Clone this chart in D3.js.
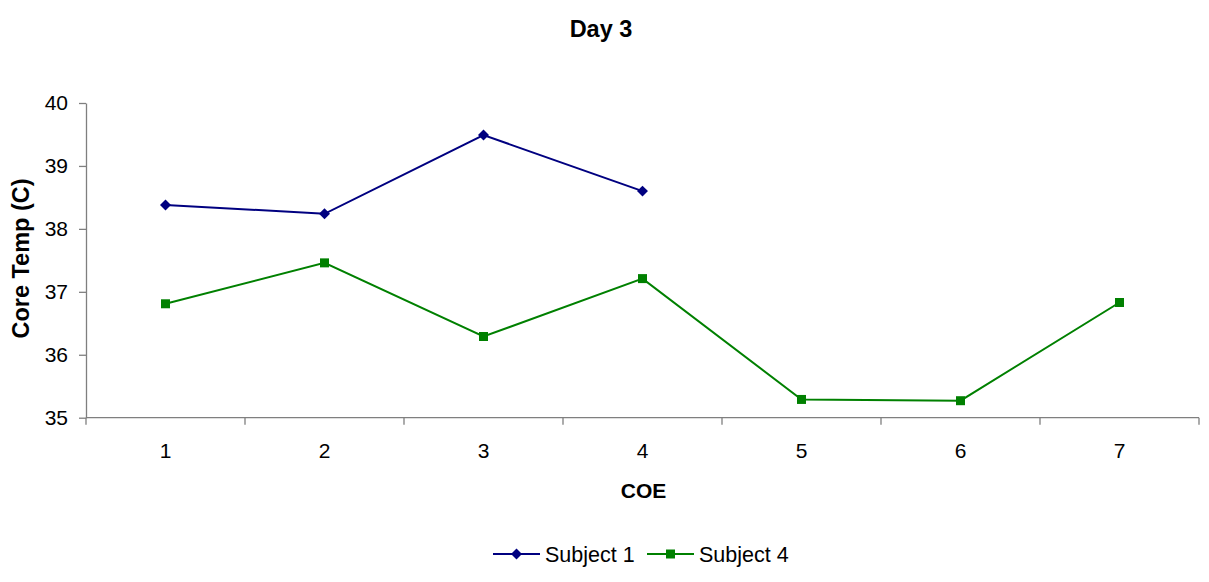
<!DOCTYPE html>
<html>
<head>
<meta charset="utf-8">
<script src="https://cdn.jsdelivr.net/npm/d3@7/dist/d3.min.js"></script>
<style>
  html, body { margin: 0; padding: 0; background: #fff; }
  svg { display: block; font-family: "Liberation Sans", Arial, sans-serif; }
</style>
</head>
<body>
<svg id="chart" width="1209" height="582"></svg>
<script>
// COE sessions along the x axis
const categories = ["1", "2", "3", "4", "5", "6", "7"];
// Core temperature readings (°C); null where no reading exists
const subject1 = [38.38, 38.24, 39.49, 38.60, null, null, null];
const subject4 = [36.81, 37.46, 36.29, 37.21, 35.29, 35.27, 36.83];
const yTicks = [35, 36, 37, 38, 39, 40];
const seriesNames = ["Subject 1", "Subject 4"];

const svg = d3.select("#chart");
const margin = { left: 86, right: 1199, top: 103, bottom: 417.7 };

const x = d3.scaleBand().domain(categories).range([margin.left, margin.right]);
const y = d3.scaleLinear().domain([35, 40]).range([margin.bottom, margin.top]);

const axisColor = "#7f7f7f";
const fontFamily = "Liberation Sans, Arial, sans-serif";

// Title
svg.append("text")
  .attr("x", 601).attr("y", 37.3)
  .attr("text-anchor", "middle")
  .attr("font-size", 23.5).attr("font-weight", "bold")
  .text("Day 3");

// Y axis
const yAxis = svg.append("g")
  .attr("transform", `translate(${margin.left},0)`)
  .call(d3.axisLeft(y).tickValues(yTicks).tickFormat(d3.format("d"))
    .tickSize(7).tickSizeOuter(0).tickPadding(11));
yAxis.select(".domain").attr("stroke", axisColor).attr("stroke-width", 1.3);
yAxis.selectAll(".tick line").attr("stroke", axisColor).attr("stroke-width", 1.3);
yAxis.selectAll(".tick text").attr("font-size", 21).attr("fill", "#000")
  .attr("font-family", fontFamily);

// X axis with ticks on band boundaries, labels at band centers
const xg = svg.append("g").attr("transform", `translate(0,${margin.bottom})`);
xg.append("line")
  .attr("x1", margin.left).attr("x2", margin.right)
  .attr("stroke", axisColor).attr("stroke-width", 1.3);
const boundaries = categories.map(c => x(c)).concat([x(categories[categories.length - 1]) + x.bandwidth()]);
xg.selectAll("line.tick").data(boundaries).enter().append("line")
  .attr("class", "tick")
  .attr("x1", d => d).attr("x2", d => d)
  .attr("y1", 0).attr("y2", 7)
  .attr("stroke", axisColor).attr("stroke-width", 1.3);
xg.selectAll("text.lbl").data(categories).enter().append("text")
  .attr("class", "lbl")
  .attr("x", d => x(d) + x.bandwidth() / 2)
  .attr("y", 40.5)
  .attr("text-anchor", "middle")
  .attr("font-size", 21)
  .text(d => d);

// Axis titles
svg.append("text")
  .attr("x", (margin.left + margin.right) / 2 + 1).attr("y", 498.3)
  .attr("text-anchor", "middle")
  .attr("font-size", 21).attr("font-weight", "bold")
  .text("COE");
svg.append("text")
  .attr("transform", "translate(28.5,258.5) rotate(-90)")
  .attr("text-anchor", "middle")
  .attr("font-size", 23.5).attr("font-weight", "bold")
  .text("Core Temp (C)");

const cx = i => x(categories[i]) + x.bandwidth() / 2;

function drawSeries(values, color, symbolType, size) {
  const pts = values.map((v, i) => ({ i, v })).filter(d => d.v !== null);
  const line = d3.line().x(d => cx(d.i)).y(d => y(d.v));
  svg.append("path").datum(pts)
    .attr("d", line)
    .attr("fill", "none")
    .attr("stroke", color).attr("stroke-width", 2);
  svg.selectAll(null).data(pts).enter().append("path")
    .attr("transform", d => `translate(${cx(d.i)},${y(d.v)})`)
    .attr("d", d3.symbol().type(symbolType).size(size))
    .attr("fill", color);
}

// Diamond marker
const diamond = {
  draw(ctx, size) {
    const r = Math.sqrt(size / 2);
    ctx.moveTo(0, -r); ctx.lineTo(r, 0); ctx.lineTo(0, r); ctx.lineTo(-r, 0); ctx.closePath();
  }
};

drawSeries(subject1, "#000080", diamond, 60);
drawSeries(subject4, "#008000", d3.symbolSquare, 81);

// Legend
const legend = [
  { name: seriesNames[0], color: "#000080", sym: diamond, size: 60, x0: 493 },
  { name: seriesNames[1], color: "#008000", sym: d3.symbolSquare, size: 81, x0: 647 }
];
const ly = 554;
legend.forEach(l => {
  svg.append("line")
    .attr("x1", l.x0).attr("x2", l.x0 + 47)
    .attr("y1", ly).attr("y2", ly)
    .attr("stroke", l.color).attr("stroke-width", 2);
  svg.append("path")
    .attr("transform", `translate(${l.x0 + 23.5},${ly})`)
    .attr("d", d3.symbol().type(l.sym).size(l.size))
    .attr("fill", l.color);
  svg.append("text")
    .attr("x", l.x0 + 52).attr("y", ly + 7.5)
    .attr("font-size", 21.5)
    .text(l.name);
});
</script>
</body>
</html>
